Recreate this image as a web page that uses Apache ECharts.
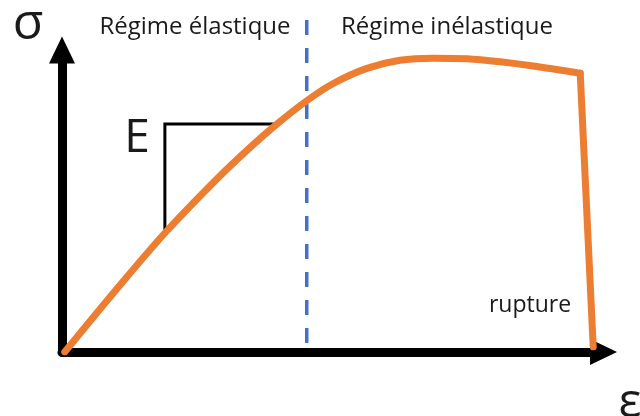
<!DOCTYPE html>
<html>
<head>
<meta charset="utf-8">
<script src="https://cdn.jsdelivr.net/npm/echarts@6/dist/echarts.min.js"></script>
<style>
html,body{margin:0;padding:0;background:#fff;}
#chart{width:640px;height:416px;}
</style>
</head>
<body>
<div id="chart"></div>
<script>
// Strain (ε) and stress (σ) readings of the curve, arbitrary units 0–100
var strain = [0.5, 9.8, 19.0, 28.6, 34.7, 39.7, 45.2, 50.1, 56.3, 62.4, 68.5, 74.8, 80.9, 87.0, 95.7];
var stress = [0, 20.2, 39.4, 57.3, 67.7, 75.5, 83.2, 88.9, 93.9, 96.6, 97.3, 97.1, 96.1, 94.7, 92.3];
// Rupture drop
var ruptureStrain = [95.7, 98.1];
var ruptureStress = [92.3, 1.7];
// Slope triangle (E)
var triStrain = [19.0, 19.0, 39.7];
var triStress = [39.7, 75.5, 75.5];
// Elastic limit
var limitStrain = 45.2;
var limitStress = [109.9, 2.3];

var labels = {
  sigma: 'σ', eps: 'ε', E: 'E',
  elastic: 'Régime élastique', inelastic: 'Régime inélastique', rupture: 'rupture'
};

function zip(a, b) { return a.map(function (v, i) { return [v, b[i]]; }); }

var orange = '#ED7D31', blue = '#4472C4', ink = '#1a1a1a';
var font = '"Open Sans", "Noto Sans", sans-serif';

var chart = echarts.init(document.getElementById('chart'));
var axisBase = {
  type: 'value', min: 0, max: 100,
  axisLine: { show: true, symbol: ['none', 'triangle'], symbolSize: [26, 27],
    lineStyle: { color: '#000', width: 9 } },
  axisTick: { show: false }, axisLabel: { show: false }, splitLine: { show: false }
};
chart.setOption({
  animation: false,
  grid: { left: 62, right: 36.5, top: 50, bottom: 64 },
  xAxis: axisBase,
  yAxis: axisBase,
  series: [
    { type: 'line', data: zip(strain, stress), smooth: 0.3, showSymbol: false, z: 5,
      lineStyle: { color: orange, width: 7, cap: 'round', join: 'round' } },
    { type: 'line', data: zip(ruptureStrain, ruptureStress), showSymbol: false, z: 5,
      lineStyle: { color: orange, width: 7, cap: 'round' } },
    { type: 'line', data: zip(triStrain, triStress), showSymbol: false, z: 4,
      lineStyle: { color: '#000', width: 3, join: 'miter' } },
    { type: 'line', data: limitStress.map(function (s) { return [limitStrain, s]; }),
      showSymbol: false, clip: false, z: 3,
      lineStyle: { color: blue, width: 3.5, type: [15, 13] } }
  ],
  graphic: [
    { type: 'text', style: { text: labels.sigma, x: 28, y: 25, align: 'center', verticalAlign: 'middle', font: '50px ' + font, fill: ink } },
    { type: 'text', style: { text: labels.elastic, x: 195, y: 27, align: 'center', verticalAlign: 'middle', font: '24px ' + font, fill: ink } },
    { type: 'text', style: { text: labels.inelastic, x: 447, y: 27, align: 'center', verticalAlign: 'middle', font: '24px ' + font, fill: ink } },
    { type: 'text', style: { text: labels.E, x: 137, y: 139, align: 'center', verticalAlign: 'middle', font: '46px ' + font, fill: ink } },
    { type: 'text', style: { text: labels.rupture, x: 530, y: 305, align: 'center', verticalAlign: 'middle', font: '23px ' + font, fill: ink } },
    { type: 'text', style: { text: labels.eps, x: 630, y: 403, align: 'center', verticalAlign: 'middle', font: '48px ' + font, fill: ink } }
  ]
});
</script>
</body>
</html>
